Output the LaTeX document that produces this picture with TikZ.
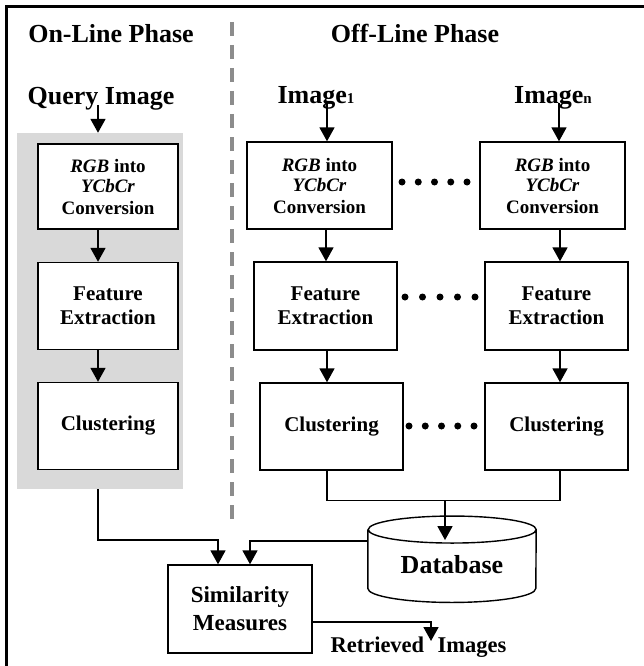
\documentclass[tikz,border=0pt]{standalone}
\usepackage{fontspec}
\setmainfont{Liberation Serif}
\usetikzlibrary{arrows.meta,positioning,calc}
\definecolor{ink}{HTML}{000000}
\definecolor{panel}{HTML}{D9D9D9}
\definecolor{divider}{HTML}{8C8C8C}

\begin{document}
\begin{tikzpicture}[
    x=1pt, y=-1pt,
    stage/.style={draw=ink, line width=1.4pt, fill=white, inner sep=0pt, align=center,
      minimum width=143pt, minimum height=87pt, font=\bfseries\fontsize{21}{24}\selectfont},
    rgbstage/.style={stage, font=\bfseries\fontsize{19}{21}\selectfont},
    heading/.style={font=\bfseries\fontsize{26}{30}\selectfont, inner sep=0pt},
    flow/.style={-{Triangle[length=14pt,width=15pt]}, line width=1.8pt, draw=ink},
    wire/.style={line width=1.3pt, draw=ink},
    dot/.style={circle, fill=ink, inner sep=0pt, minimum size=7pt}
  ]
  \useasboundingbox (0,0) rectangle (644,666);

  % frame and divider
  \draw[line width=3pt] (644,7) -- (6,7) -- (6,666);
  \draw[divider, line width=3.5pt, dash pattern=on 14pt off 9pt] (232,22) -- (232,527);

  % headings
  \node[heading, anchor=base] (online) at (111,43) {On-Line Phase};
  \node[heading, anchor=base] (offline) at (415,43) {Off-Line Phase};
  \node[heading, anchor=base] (query) at (101,105) {Query Image};
  \node[heading, anchor=base] (imga) at (316,103) {Image\raisebox{-1pt}{\fontsize{15}{15}\selectfont 1}};
  \node[heading, anchor=base] (imgn) at (553,103) {Image\raisebox{-1pt}{\fontsize{15}{15}\selectfont n}};

  % on-line branch
  \node[fill=panel, minimum width=166pt, minimum height=356pt, inner sep=0pt] (qpanel) at (100,311) {};
  \node[rgbstage, minimum width=140pt, minimum height=85pt] (qrgb) at (108,186.5) {\textit{RGB} into\\\textit{YCbCr}\\Conversion};
  \node[stage, minimum width=140pt] (qfeat) at (108,306) {Feature\\Extraction};
  \node[stage, minimum width=140pt] (qclus) at (108,426) {Clustering};

  \draw[flow] ([xshift=-3pt]query.base) -- ([xshift=-3pt]query.base |- qpanel.north);
  \draw[flow] ([xshift=-10pt]qrgb.south) -- ([xshift=-10pt]qfeat.north);
  \draw[flow] ([xshift=-10pt]qfeat.south) -- ([xshift=-10pt]qclus.north);

  % off-line branch
  \node[rgbstage, minimum width=145pt] (argb) at (319.5,185.5) {\textit{RGB} into\\\textit{YCbCr}\\Conversion};
  \node[rgbstage, minimum width=145pt] (nrgb) at (552.5,185.5) {\textit{RGB} into\\\textit{YCbCr}\\Conversion};
  \node[stage, minimum height=88pt] (afeat) at (325.5,306) {Feature\\Extraction};
  \node[stage, minimum height=88pt] (nfeat) at (556.5,306) {Feature\\Extraction};
  \node[stage] (aclus) at (331.5,426.5) {Clustering};
  \node[stage] (nclus) at (556.5,426.5) {Clustering};

  \draw[flow] ([xshift=11pt]imga.base) -- ([xshift=11pt]imga.base |- argb.north);
  \draw[flow] ([xshift=6pt]imgn.base) -- ([xshift=6pt]imgn.base |- nrgb.north);
  \draw[flow] ([xshift=6.5pt]argb.south) -- ([xshift=6.5pt]argb.south |- afeat.north);
  \draw[flow] ([xshift=7.5pt]nrgb.south) -- ([xshift=7.5pt]nrgb.south |- nfeat.north);
  \draw[flow] ([xshift=1.5pt]afeat.south) -- ([xshift=1.5pt]afeat.south |- aclus.north);
  \draw[flow] ([xshift=3.5pt]nfeat.south) -- ([xshift=3.5pt]nfeat.south |- nclus.north);

  \foreach \y/\x/\d in {182/402/16.25, 297/405/17.5, 426/409/16.25}
    \foreach \k in {0,...,4}
      \node[dot] (dot-\y-\k) at (\x+\k*\d,\y) {};

  % database
  \node[inner sep=0pt, minimum width=168pt, minimum height=58.5pt, text height=28pt, text depth=0pt,
    font=\bfseries\fontsize{26}{30}\selectfont] (db) at (452,559) {Database};
  \draw[line width=1.4pt] (db.north west) -- (db.south west)
    arc[start angle=180, end angle=360, x radius=84pt, y radius=14pt] -- (db.north east)
    arc[start angle=0, end angle=360, x radius=84pt, y radius=13.5pt];

  \draw[wire] ([xshift=-4.5pt]aclus.south) -- ++(0,30) -| ([xshift=3.5pt]nclus.south);
  \coordinate (merge) at (445,500);
  \draw[flow] (merge) -- ([yshift=-10.5pt]db.north -| merge);

  % matching
  \node[stage, minimum width=144pt, minimum height=88pt, font=\bfseries\fontsize{23}{28}\selectfont] (sim) at (240,609) {Similarity\\Measures};
  \draw[flow] ([xshift=-2pt]qpanel.south) -- ++(0,51) -| ([xshift=-22pt]sim.north);
  \draw[flow] ([yshift=-11.5pt]db.north west) -| ([xshift=10pt]sim.north);

  \node[font=\bfseries\fontsize{22.5}{26}\selectfont, anchor=base, inner sep=0pt] (result) at (418.5,652) {Retrieved\hspace{0.6em}Images};
  \coordinate (outtip) at (431,641);
  \draw[flow] ([yshift=-13pt]sim.east) -| (outtip);
\end{tikzpicture}
\end{document}
